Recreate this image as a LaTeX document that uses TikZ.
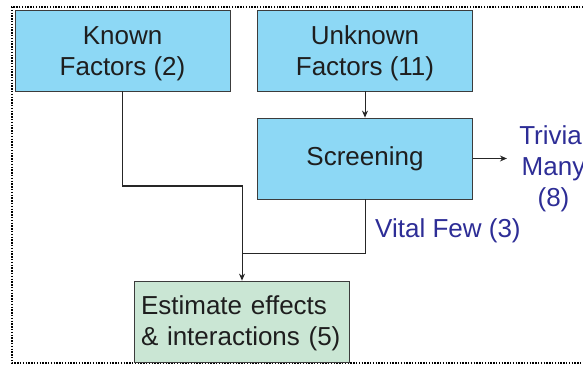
\documentclass[tikz,border=0pt]{standalone}
\usepackage{fontspec}
\setmainfont{Liberation Sans}
\usetikzlibrary{arrows.meta}
\definecolor{boxblue}{RGB}{141,216,245}
\definecolor{boxgreen}{RGB}{202,230,212}
\definecolor{txtdark}{RGB}{30,30,30}
\definecolor{txtblue}{RGB}{45,45,150}
\definecolor{edgegray}{RGB}{60,60,60}
\begin{document}
\begin{tikzpicture}[x=1pt,y=-1pt,
  fbox/.style={draw=edgegray, line width=0.8pt, minimum width=215pt, minimum height=81pt,
    inner sep=0pt, align=center, text=txtdark,
    font=\fontsize{26}{31}\selectfont},
  lbl/.style={text=txtblue, inner sep=0pt, font=\fontsize{26}{31}\selectfont},
  conn/.style={draw=black!85, line width=1pt},
  tip/.style={-{Stealth[length=7pt,width=6pt]}}]
\useasboundingbox (0,0) rectangle (583,366);
\begin{scope}
\clip (0,0) rectangle (583,366);
\draw[line width=1.4pt, dash pattern=on 1.4pt off 1.4pt] (600,7) -- (12,7) -- (12,363) -- (600,363);
\node[fbox, fill=boxblue] (known) at (122.5,50.5) {\rule{0pt}{25pt}Known\\Factors (2)};
\node[fbox, fill=boxblue] (unknown) at (365,50.5) {\rule{0pt}{25pt}Unknown\\Factors (11)};
\node[fbox, fill=boxblue] (screen) at (365,158.5) {Screening};
\node[fbox, fill=boxgreen, align=left, text width=201pt, inner xsep=7pt] (est) at (241.5,321.5) {\rule{0pt}{22pt}Estimate effects\\\& interactions (5)};
\node[lbl, align=center] (trivial) at (553.5,169) {Trivial\\Many\\(8)};
\node[lbl, anchor=base west] (vital) at (375,237) {Vital Few (3)};
\coordinate (k1) at (known.south |- 0,186);
\coordinate (k2) at (242,186);
\coordinate (v1) at (screen.south |- 0,253);
\coordinate (v2) at (242,253);
\draw[conn, tip] (known.south) -- (k1) -- (k2) -- (est.north -| k2);
\draw[conn] (screen.south) -- (v1) -- (v2);
\draw[conn, tip] (unknown.south) -- (screen.north);
\draw[conn, tip] (screen.east) -- ++(34,0) coordinate (t1);
\end{scope}
\end{tikzpicture}
\end{document}
